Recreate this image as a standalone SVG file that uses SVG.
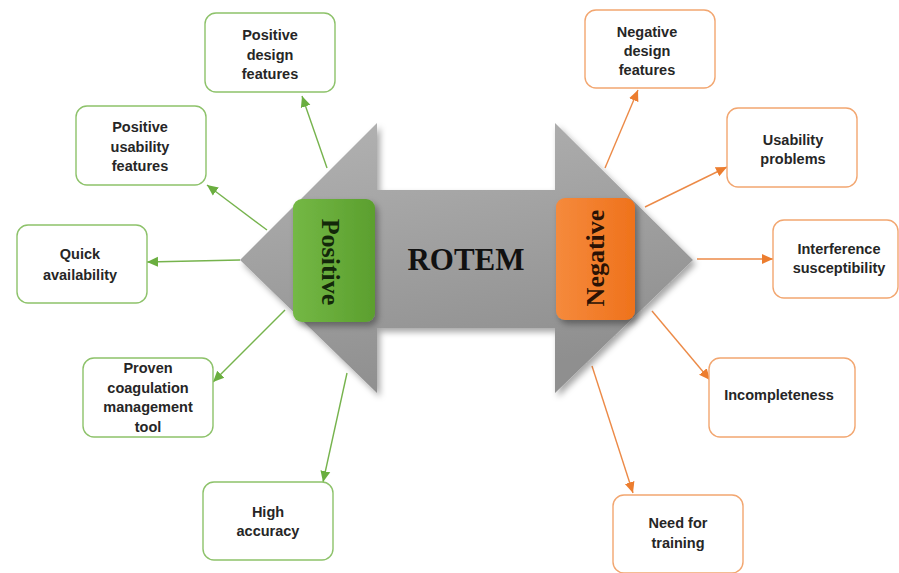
<svg xmlns="http://www.w3.org/2000/svg" width="899" height="573" viewBox="0 0 899 573">
<style>
.nodeG rect{fill:#ffffff;stroke:#8dc26a;stroke-width:1.4}
.nodeO rect{fill:#ffffff;stroke:#f2a670;stroke-width:1.4}
.lbl{font-family:"Liberation Sans",Arial,sans-serif;font-weight:bold;font-size:14.5px;fill:#262626;text-anchor:middle}
.big{font-family:"Liberation Serif","Times New Roman",serif;font-weight:bold;text-anchor:middle}
.cg{stroke:#76b34d;stroke-width:1.4;fill:none;marker-end:url(#ag)}
.co{stroke:#ec8a47;stroke-width:1.4;fill:none;marker-end:url(#ao)}
</style>
<defs>
<marker id="ag" markerUnits="userSpaceOnUse" markerWidth="12" markerHeight="12" viewBox="0 0 12 12" refX="11" refY="6" orient="auto">
<path d="M0,1 L11,6 L0,11 Z" fill="#6aae3f"/>
</marker>
<marker id="ao" markerUnits="userSpaceOnUse" markerWidth="12" markerHeight="12" viewBox="0 0 12 12" refX="11" refY="6" orient="auto">
<path d="M0,1 L11,6 L0,11 Z" fill="#ec7d2f"/>
</marker>
<linearGradient id="gray" x1="0" y1="0" x2="0.3" y2="1">
<stop offset="0" stop-color="#b3b3b3"/>
<stop offset="1" stop-color="#8f8f8f"/>
</linearGradient>
<linearGradient id="green" x1="0" y1="0" x2="1" y2="0">
<stop offset="0" stop-color="#74b845"/>
<stop offset="1" stop-color="#5b9f2e"/>
</linearGradient>
<linearGradient id="orange" x1="0" y1="0" x2="1" y2="0">
<stop offset="0" stop-color="#f58a3c"/>
<stop offset="1" stop-color="#ef721c"/>
</linearGradient>
<filter id="sh" x="-10%" y="-10%" width="130%" height="130%">
<feDropShadow dx="3" dy="4" stdDeviation="3" flood-color="#000" flood-opacity="0.35"/>
</filter>
</defs>

<g id="connectors">
<line class="cg" x1="327" y1="168" x2="302" y2="96"/>
<line class="cg" x1="267" y1="230" x2="207" y2="185"/>
<line class="cg" x1="240" y1="260" x2="147" y2="262"/>
<line class="cg" x1="285" y1="310" x2="213" y2="382"/>
<line class="cg" x1="347" y1="373" x2="323" y2="482"/>
<line class="co" x1="605" y1="168" x2="638" y2="90"/>
<line class="co" x1="645" y1="207" x2="727" y2="167"/>
<line class="co" x1="697" y1="259" x2="773" y2="259"/>
<line class="co" x1="652" y1="311" x2="710" y2="380"/>
<line class="co" x1="592" y1="366" x2="633" y2="493"/>
</g>

<g id="rotem">
<polygon points="240,260 377,123 377,190 555,190 555,123 693,260 555,393 555,328 377,328 377,393" fill="url(#gray)" filter="url(#sh)"/>
<text class="big" x="466" y="270" font-size="31" fill="#111">ROTEM</text>
</g>

<g id="positive">
<rect x="293" y="199" width="82" height="123" rx="9" fill="url(#green)" filter="url(#sh)"/>
<text class="big" font-size="26" fill="#13280a" transform="translate(321.5,262) rotate(90)" x="0" y="0">Positive</text>
</g>

<g id="negative">
<rect x="556" y="198" width="79" height="122" rx="9" fill="url(#orange)" filter="url(#sh)"/>
<text class="big" font-size="26" fill="#2a1205" transform="translate(604,258) rotate(-90)" x="0" y="0">Negative</text>
</g>

<g id="pos-design" class="nodeG">
<rect x="205" y="13" width="130" height="79" rx="11"/>
<text class="lbl" x="270" y="40">Positive</text>
<text class="lbl" x="270" y="59.5">design</text>
<text class="lbl" x="270" y="79">features</text>
</g>

<g id="pos-usability" class="nodeG">
<rect x="76" y="106" width="130" height="79" rx="11"/>
<text class="lbl" x="140" y="132">Positive</text>
<text class="lbl" x="140" y="151.5">usability</text>
<text class="lbl" x="140" y="171">features</text>
</g>

<g id="quick" class="nodeG">
<rect x="17" y="225" width="130" height="78" rx="11"/>
<text class="lbl" x="80" y="259">Quick</text>
<text class="lbl" x="80" y="280">availability</text>
</g>

<g id="proven" class="nodeG">
<rect x="83" y="358" width="130" height="79" rx="11"/>
<text class="lbl" x="148" y="373">Proven</text>
<text class="lbl" x="148" y="392.5">coagulation</text>
<text class="lbl" x="148" y="412">management</text>
<text class="lbl" x="148" y="431.5">tool</text>
</g>

<g id="high" class="nodeG">
<rect x="203" y="482" width="130" height="78" rx="11"/>
<text class="lbl" x="268" y="517">High</text>
<text class="lbl" x="268" y="536">accuracy</text>
</g>

<g id="neg-design" class="nodeO">
<rect x="585" y="10" width="130" height="78" rx="11"/>
<text class="lbl" x="647" y="37">Negative</text>
<text class="lbl" x="647" y="55.5">design</text>
<text class="lbl" x="647" y="75">features</text>
</g>

<g id="usability-problems" class="nodeO">
<rect x="727" y="108" width="130" height="79" rx="11"/>
<text class="lbl" x="793" y="145">Usability</text>
<text class="lbl" x="793" y="164">problems</text>
</g>

<g id="interference" class="nodeO">
<rect x="773" y="220" width="125" height="78" rx="11"/>
<text class="lbl" x="839" y="254">Interference</text>
<text class="lbl" x="839" y="273">susceptibility</text>
</g>

<g id="incompleteness" class="nodeO">
<rect x="709" y="358" width="146" height="79" rx="11"/>
<text class="lbl" x="779" y="400">Incompleteness</text>
</g>

<g id="training" class="nodeO">
<rect x="613" y="495" width="130" height="78" rx="11"/>
<text class="lbl" x="678" y="528">Need for</text>
<text class="lbl" x="678" y="548">training</text>
</g>
</svg>
